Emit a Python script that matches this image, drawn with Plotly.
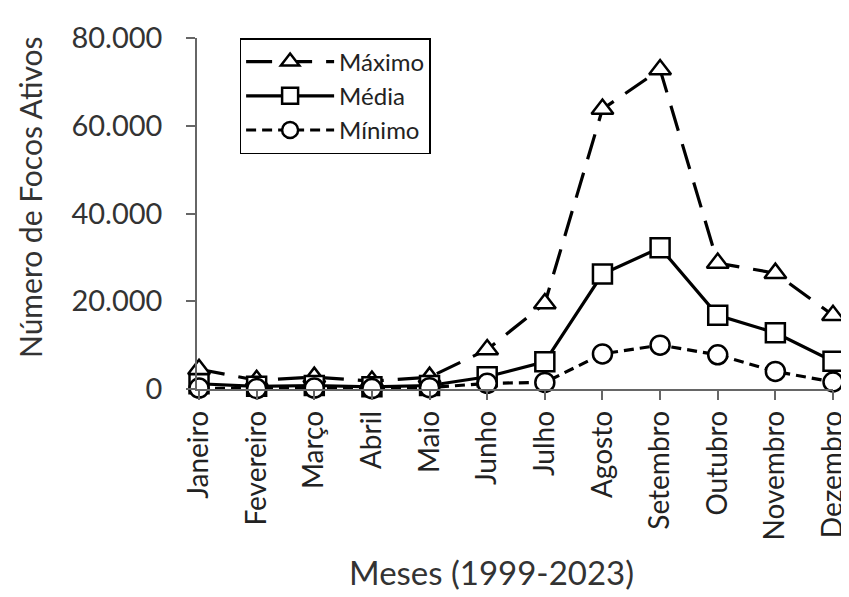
import plotly.graph_objects as go

meses = ["Janeiro", "Fevereiro", "Março", "Abril", "Maio", "Junho", "Julho",
         "Agosto", "Setembro", "Outubro", "Novembro", "Dezembro"]
maximo = [4500, 2000, 2700, 1800, 2700, 9000, 19500, 63800, 72800, 28700, 26400, 16800]
media = [1200, 600, 800, 500, 800, 2800, 6200, 26200, 32200, 16800, 12800, 6300]
minimo = [200, 100, 200, 100, 300, 1300, 1500, 8000, 10000, 7800, 4000, 1600]
y_ticks = [0, 20000, 40000, 60000, 80000]

FONT = "Lato"
fig = go.Figure()

def add(name, vals, symbol, dash):
    fig.add_trace(go.Scatter(
        x=list(range(len(meses))), y=vals, name=name, mode="lines+markers",
        line=dict(color="black", width=3.2, dash=dash),
        marker=dict(symbol=symbol, size=19, color="white",
                    line=dict(color="black", width=2.5)),
        cliponaxis=False,
    ))

add("Máximo", maximo, "triangle-up", "26px,14px")
add("Média", media, "square", "solid")
add("Mínimo", minimo, "circle", "10px,6px")

# page is offset by 8px body margin -> figure 841x589
W, H = 841, 589
L, T, R, B = 189, 30, 16, 208

fig.update_layout(
    width=W, height=H,
    margin=dict(l=L, r=R, t=T, b=B, autoexpand=False),
    paper_bgcolor="white", plot_bgcolor="white",
    separators=",.",
    font=dict(family=FONT, size=26, color="#404040"),
    showlegend=True,
    legend=dict(x=0.067, y=1.0, xanchor="left", yanchor="top",
                bordercolor="black", borderwidth=1.5, bgcolor="white",
                font=dict(family=FONT, size=24, color="#222"),
                tracegroupgap=0, itemwidth=88),
    xaxis=dict(
        tickmode="array", tickvals=list(range(len(meses))), ticktext=meses,
        tickangle=-90, range=[-0.035, 11.0], showgrid=False, zeroline=False,
        showline=True, linecolor="#666", linewidth=1.5, automargin=False,
        ticks="outside", ticklen=9, tickcolor="#666", tickwidth=1.5,
        ticklabeloverflow="allow",
        tickfont=dict(family=FONT, size=28, color="#222"),
    ),
    yaxis=dict(
        range=[0, 80000], tickvals=y_ticks, tickformat=",d",
        showgrid=False, zeroline=False, automargin=False,
        showline=True, linecolor="#666", linewidth=1.5,
        ticks="outside", ticklen=9, tickcolor="#666", tickwidth=1.5,
        ticklabelstandoff=18, ticklabeloverflow="allow",
        tickfont=dict(family=FONT, size=29, color="#333"),
    ),
    annotations=[
        dict(text="Meses (1999-2023)", xref="paper", yref="paper",
             x=(491 - 8 - L) / (W - L - R), y=-(572 - 8 - (H - B)) / (H - T - B),
             xanchor="center", yanchor="middle", showarrow=False,
             font=dict(family=FONT, size=33, color="#333")),
        dict(text="Número de Focos Ativos", xref="paper", yref="paper",
             x=-(L - (30 - 8)) / (W - L - R), y=1 - (197 - 8 - T) / (H - T - B),
             xanchor="center", yanchor="middle", showarrow=False, textangle=-90,
             font=dict(family=FONT, size=30, color="#333")),
    ],
)

fig.write_html("out.html")
